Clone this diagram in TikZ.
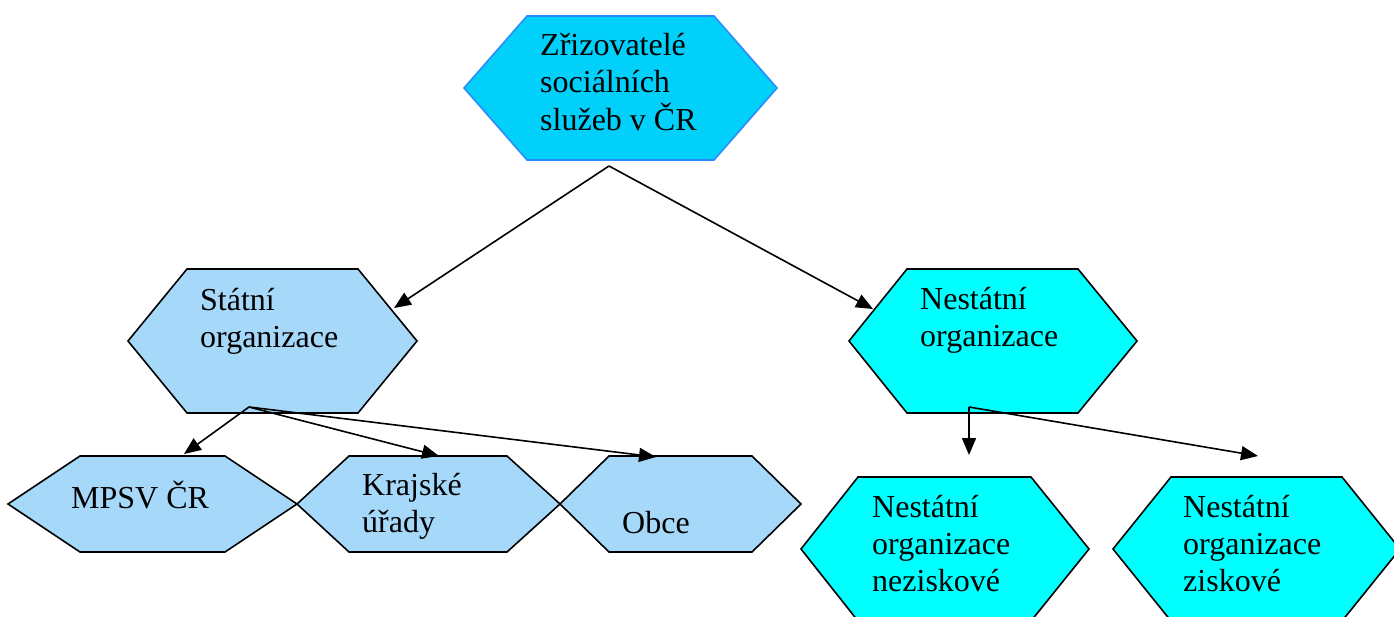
\documentclass[tikz,border=0pt]{standalone}
\usepackage{fontspec}
\setmainfont{Liberation Serif}
\usetikzlibrary{arrows.meta}
\definecolor{topfill}{RGB}{0,208,250}
\definecolor{topline}{RGB}{40,140,255}
\definecolor{palefill}{RGB}{166,216,250}
\definecolor{cyanfill}{RGB}{0,255,255}
\tikzset{
  hexbox/.style={draw=black, line width=1.6pt, line join=miter},
  lbl/.style={anchor=base west, inner sep=0pt, font=\fontsize{32}{37}\selectfont},
  conn/.style={line width=1.6pt, -{Triangle[length=17pt,width=14pt]}},
}
\begin{document}
\begin{tikzpicture}[x=1pt,y=-1pt]
\useasboundingbox (0,0) rectangle (1394,616);
\clip (0,0) rectangle (1394,616);
% hexagons
\filldraw[hexbox, fill=topfill, draw=topline] (464,88) -- (527,16) -- (714,16) -- (777,88) -- (714,160) -- (527,160) -- cycle;
\filldraw[hexbox, fill=palefill] (128,341) -- (187,269) -- (358,269) -- (417,341) -- (358,413) -- (187,413) -- cycle;
\filldraw[hexbox, fill=cyanfill] (849,341) -- (907,269) -- (1078,269) -- (1137,341) -- (1078,413) -- (907,413) -- cycle;
\filldraw[hexbox, fill=palefill] (8,504) -- (80,456) -- (225,456) -- (297,504) -- (225,552) -- (80,552) -- cycle;
\filldraw[hexbox, fill=palefill] (297,504) -- (349,456) -- (507,456) -- (560,504) -- (507,552) -- (349,552) -- cycle;
\filldraw[hexbox, fill=palefill] (560,504) -- (609,456) -- (752,456) -- (801,504) -- (752,552) -- (609,552) -- cycle;
\filldraw[hexbox, fill=cyanfill] (801,549) -- (858,477) -- (1031,477) -- (1089,549) -- (1031,621) -- (858,621) -- cycle;
\filldraw[hexbox, fill=cyanfill] (1113,549) -- (1171,477) -- (1342,477) -- (1400,549) -- (1342,621) -- (1171,621) -- cycle;
% labels
\node[lbl] (zriz) at (540,55) {\begin{tabular}[t]{@{}l@{}}Zřizovatelé\\sociálních\\služeb v ČR\end{tabular}};
\node[lbl] (stat) at (200,310) {\begin{tabular}[t]{@{}l@{}}Státní\\organizace\end{tabular}};
\node[lbl] (nestat) at (920,309) {\begin{tabular}[t]{@{}l@{}}Nestátní\\organizace\end{tabular}};
\node[lbl] (mpsv) at (71,508) {MPSV ČR};
\node[lbl] (kraj) at (362,495) {\begin{tabular}[t]{@{}l@{}}Krajské\\úřady\end{tabular}};
\node[lbl] (obce) at (622,533) {Obce};
\node[lbl] (nezisk) at (872,517) {\begin{tabular}[t]{@{}l@{}}Nestátní\\organizace\\neziskové\end{tabular}};
\node[lbl] (zisk) at (1183,517) {\begin{tabular}[t]{@{}l@{}}Nestátní\\organizace\\ziskové\end{tabular}};
% connector points
\coordinate (zrizout) at (609,166);
\coordinate (statin) at (394,308);
\coordinate (nestatin) at (873,309);
\coordinate (statout) at (249,407);
\coordinate (mpsvin) at (184,454);
\coordinate (krajin) at (439,456);
\coordinate (obcein) at (656,457);
\coordinate (nestatout) at (969,407);
\coordinate (neziskin) at (969,455);
\coordinate (ziskin) at (1258,456);
% connectors
\draw[conn] (zrizout) -- (statin);
\draw[conn] (zrizout) -- (nestatin);
\draw[conn] (statout) -- (mpsvin);
\draw[conn] (statout) -- (krajin);
\draw[conn] (statout) -- (obcein);
\draw[conn] (nestatout) -- (neziskin);
\draw[conn] (nestatout) -- (ziskin);
\end{tikzpicture}
\end{document}
